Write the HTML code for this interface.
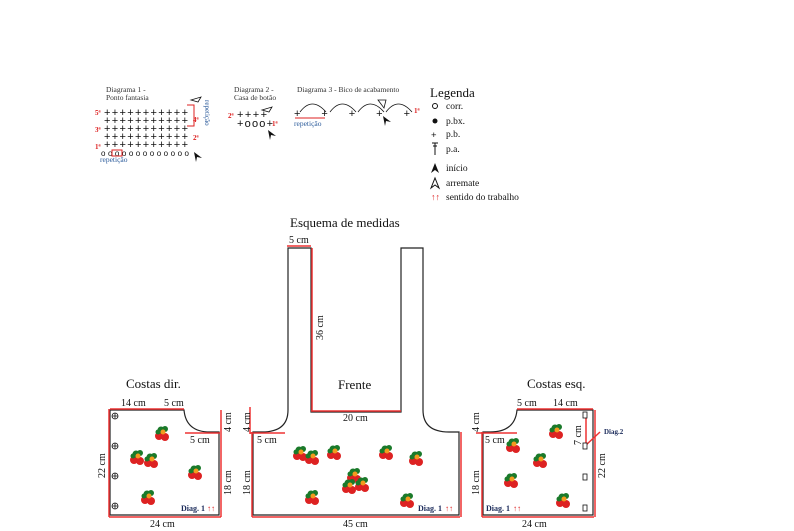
<!DOCTYPE html>
<html><head><meta charset="utf-8"><style>
html,body{margin:0;padding:0;background:#fff;}
svg{display:block;font-family:"Liberation Serif",serif;}
</style></head><body>
<svg width="794" height="531" viewBox="0 0 794 531" xmlns="http://www.w3.org/2000/svg">
<defs>
<g id="s">
<circle cx="-3" cy="3" r="4" fill="#d22"/><circle cx="3" cy="4" r="4" fill="#d22"/>
<circle cx="-1" cy="-3" r="3.5" fill="#1a7a2a"/><circle cx="3" cy="-4" r="3" fill="#1a7a2a"/><circle cx="-4" cy="-1" r="2.5" fill="#1a7a2a"/>
<circle cx="1" cy="-1" r="2.5" fill="#f39a1e"/>
</g>
</defs>
<!-- Diagrams -->
<g font-size="7.5">
<text x="106" y="92" fill="#333">Diagrama 1 -</text>
<text x="106" y="100" fill="#333">Ponto fantasia</text>
<text x="234" y="92" fill="#333">Diagrama 2 -</text>
<text x="234" y="100" fill="#333">Casa de botão</text>
<text x="297" y="92" fill="#333">Diagrama 3 - Bico de acabamento</text>
</g>
<g font-size="11" fill="#111" font-family="Liberation Sans,sans-serif">
<text x="104" y="116" textLength="84" lengthAdjust="spacing">+++++++++++</text>
<text x="104" y="124" textLength="84" lengthAdjust="spacing">+++++++++++</text>
<text x="104" y="132" textLength="84" lengthAdjust="spacing">+++++++++++</text>
<text x="104" y="140" textLength="84" lengthAdjust="spacing">+++++++++++</text>
<text x="104" y="148" textLength="84" lengthAdjust="spacing">+++++++++++</text>
<text x="101" y="156" font-size="8" textLength="88" lengthAdjust="spacing">ooooooooooooo</text>
<text x="237" y="118" textLength="30" lengthAdjust="spacing">++++</text>
<text x="237" y="127" textLength="36" lengthAdjust="spacing">+ooo+</text>
</g>
<g font-size="7" fill="#d22" font-weight="bold">
<text x="95" y="115">5ª</text><text x="95" y="132">3ª</text><text x="95" y="149">1ª</text>
<text x="193" y="122">4ª</text><text x="193" y="140">2ª</text>
<text x="228" y="118">2ª</text><text x="272" y="126">1ª</text><text x="414" y="113">1ª</text>
</g>
<path d="M187 105 H194 V126 H187" stroke="#d22" fill="none"/>
<rect x="112" y="150" width="10" height="6" stroke="#d22" fill="none"/>
<text x="100" y="162" font-size="7.5" fill="#2a5a9a">repetição</text>
<text x="205" y="100" font-size="7" fill="#2a5a9a" transform="rotate(90 205 100)">repetição</text>
<text x="294" y="126" font-size="7.5" fill="#2a5a9a">repetição</text>
<line x1="295" y1="118" x2="325" y2="118" stroke="#d22"/>
<text x="294" y="117" font-size="11" font-family="Liberation Sans,sans-serif" fill="#111" textLength="116" lengthAdjust="spacing">+   +   +   +   +</text>
<path d="M300 112 q12 -16 26 0 M330 112 q12 -16 26 0 M358 112 q12 -16 26 0 M386 112 q12 -16 26 0" stroke="#111" fill="none" stroke-width="0.8"/>
<path d="M194 152l8 6-5-1-1 5z M268 130l8 6-5-1-1 5z M383 116l8 6-5-1-1 5z" fill="#111"/>
<path d="M191 100l10 -3-3 5z M262 110l10-3-3 5z M378 100l6 8 2-8z" fill="none" stroke="#111" stroke-width="0.8"/>
<!-- Legend -->
<text x="430" y="97" font-size="13" fill="#111">Legenda</text>
<g font-size="9.5" fill="#111">
<circle cx="435" cy="106" r="2.5" fill="none" stroke="#111"/><text x="446" y="109">corr.</text>
<circle cx="435" cy="121" r="2.5" fill="#111"/><text x="446" y="124">p.bx.</text>
<text x="431" y="138" font-family="Liberation Sans">+</text><text x="446" y="137">p.b.</text>
<path d="M432 143h6M433 146h4M435 143v12" stroke="#111"/><text x="446" y="152">p.a.</text>
<path d="M431 173l4-10 4 10-4-3z" fill="#111"/><text x="446" y="171">início</text>
<path d="M431 188l4-10 4 10-4-3z" fill="none" stroke="#111"/><text x="446" y="186">arremate</text>
<text x="431" y="200" fill="#d22" font-size="9" font-weight="bold">↑↑</text><text x="446" y="200">sentido do trabalho</text>
</g>
<text x="290" y="227" font-size="13" fill="#111">Esquema de medidas</text>
<!-- Frente -->
<path d="M253 515 V432 H262 Q288 432 288 410 V248 H311 V412 H401 V248 H423 V410 Q423 432 449 432 H459 V515 Z" fill="none" stroke="#222" stroke-width="1.2"/>
<g stroke="#e33" stroke-width="1.5" fill="none">
<line x1="312" y1="248" x2="312" y2="411"/><line x1="311" y1="411" x2="401" y2="411"/>
<line x1="287" y1="246" x2="311" y2="246"/>
<line x1="252" y1="432" x2="252" y2="517"/><line x1="252" y1="517" x2="460" y2="517"/>
<line x1="250" y1="433" x2="285" y2="433"/><line x1="250" y1="407" x2="250" y2="434"/>
<line x1="461" y1="432" x2="461" y2="517"/>
</g>
<g font-size="10" fill="#111">
<text x="289" y="243">5 cm</text>
<text x="323" y="340" transform="rotate(-90 323 340)">36 cm</text>
<text x="338" y="389" font-size="13">Frente</text>
<text x="343" y="421">20 cm</text>
<text x="257" y="443">5 cm</text>
<text x="250" y="432" transform="rotate(-90 250 432)">4 cm</text>
<text x="250" y="495" transform="rotate(-90 250 495)">18 cm</text>
<text x="343" y="527">45 cm</text>
<text x="418" y="511" font-size="8" font-weight="bold" fill="#1a2a5a">Diag. 1</text>
<text x="445" y="511" font-size="8" font-weight="bold" fill="#d22">↑↑</text>
<!-- Costas dir -->
<text x="126" y="388" font-size="13">Costas dir.</text>
<text x="121" y="406">14 cm</text><text x="164" y="406">5 cm</text>
<text x="190" y="443">5 cm</text>
<text x="231" y="432" transform="rotate(-90 231 432)">4 cm</text>
<text x="231" y="495" transform="rotate(-90 231 495)">18 cm</text>
<text x="105" y="478" transform="rotate(-90 105 478)">22 cm</text>
<text x="150" y="527">24 cm</text>
<text x="181" y="511" font-size="8" font-weight="bold" fill="#1a2a5a">Diag. 1</text>
<text x="207" y="511" font-size="8" font-weight="bold" fill="#d22">↑↑</text>
<!-- Costas esq -->
<text x="527" y="388" font-size="13">Costas esq.</text>
<text x="517" y="406">5 cm</text><text x="553" y="406">14 cm</text>
<text x="485" y="443">5 cm</text>
<text x="479" y="432" transform="rotate(-90 479 432)">4 cm</text>
<text x="479" y="495" transform="rotate(-90 479 495)">18 cm</text>
<text x="581" y="445" transform="rotate(-90 581 445)">7 cm</text>
<text x="605" y="478" transform="rotate(-90 605 478)">22 cm</text>
<text x="522" y="527">24 cm</text>
<text x="604" y="434" font-size="7" font-weight="bold" fill="#1a2a5a">Diag.2</text>
<text x="486" y="511" font-size="8" font-weight="bold" fill="#1a2a5a">Diag. 1</text>
<text x="513" y="511" font-size="8" font-weight="bold" fill="#d22">↑↑</text>
</g>
<!-- Costas dir shape -->
<path d="M110 410 H184 Q186 432 210 432 H219 V515 H110 Z" fill="none" stroke="#222" stroke-width="1.2"/>
<g stroke="#e33" stroke-width="1.5" fill="none">
<line x1="110" y1="409" x2="184" y2="409"/><line x1="109" y1="409" x2="109" y2="517"/>
<line x1="109" y1="517" x2="221" y2="517"/><line x1="221" y1="410" x2="221" y2="517"/>
<line x1="185" y1="433" x2="220" y2="433"/>
</g>
<g fill="none" stroke="#111" stroke-width="0.8">
<circle cx="115" cy="416" r="3"/><circle cx="115" cy="446" r="3"/><circle cx="115" cy="476" r="3"/><circle cx="115" cy="506" r="3"/>
<path d="M112 416h6M115 413v6M112 446h6M115 443v6M112 476h6M115 473v6M112 506h6M115 503v6"/>
</g>
<!-- Costas esq shape -->
<path d="M483 432 H490 Q515 432 517 410 H593 V515 H483 Z" fill="none" stroke="#222" stroke-width="1.2"/>
<g stroke="#e33" stroke-width="1.5" fill="none">
<line x1="517" y1="409" x2="593" y2="409"/><line x1="482" y1="432" x2="482" y2="517"/>
<line x1="482" y1="517" x2="594" y2="517"/><line x1="595" y1="410" x2="595" y2="517"/>
<line x1="476" y1="433" x2="517" y2="433"/><line x1="586" y1="416" x2="586" y2="445"/>
<line x1="586" y1="445" x2="600" y2="432"/>
</g>
<g fill="#fff" stroke="#111" stroke-width="0.8">
<rect x="583" y="412" width="4" height="6"/><rect x="583" y="443" width="4" height="6"/><rect x="583" y="474" width="4" height="6"/><rect x="583" y="505" width="4" height="6"/>
</g>
<!-- strawberries -->
<use href="#s" x="162" y="433"/><use href="#s" x="137" y="457"/><use href="#s" x="151" y="460"/>
<use href="#s" x="195" y="472"/><use href="#s" x="148" y="497"/>
<use href="#s" x="300" y="453"/><use href="#s" x="312" y="457"/><use href="#s" x="334" y="452"/>
<use href="#s" x="386" y="452"/><use href="#s" x="416" y="458"/><use href="#s" x="354" y="475"/><use href="#s" x="362" y="484"/><use href="#s" x="349" y="486"/>
<use href="#s" x="312" y="497"/><use href="#s" x="407" y="500"/>
<use href="#s" x="556" y="431"/><use href="#s" x="513" y="445"/><use href="#s" x="540" y="460"/>
<use href="#s" x="511" y="480"/><use href="#s" x="563" y="500"/>
</svg>
</body></html>
